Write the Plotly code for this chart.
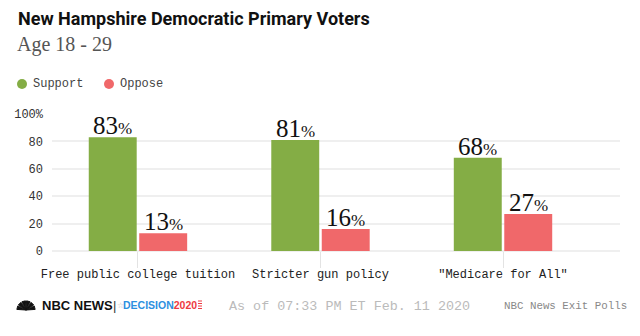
import math
import plotly.graph_objects as go

# Survey results, percent of voters aged 18-29
categories = ["Free public college tuition", "Stricter gun policy", "\"Medicare for All\""]
support = [83, 81, 68]
oppose = [13, 16, 27]
series_names = ["Support", "Oppose"]
tick_vals = [0, 20, 40, 60, 80, 100]
tick_text = ["0", "20", "40", "60", "80", "100%"]

GREEN = "#84ad45"
RED = "#f0686a"
MONO = "Liberation Mono, DejaVu Sans Mono, monospace"
SERIF = "Liberation Serif, DejaVu Serif, serif"

W, H = 640, 336
ML, MR, MT, MB = 52, 20, 114, 85
PW, PH = W - ML - MR, H - MT - MB
BARGAP, GROUPGAP = 0.447, 0.05


def px_x(x):
    return (x - ML) / PW


def px_y(y):
    return (H - MB - y) / PH


def label(v):
    return f"{v}<span style='font-size:17px'>%</span>"


fig = go.Figure()
series = [(series_names[0], support, GREEN), (series_names[1], oppose, RED)]
for name, vals, col in series:
    fig.add_trace(go.Bar(
        x=categories, y=vals, name=name,
        marker=dict(color=col, line=dict(width=0)),
        showlegend=False,
    ))

annotations = []
# value labels sitting on top of each bar
slot = (1 - BARGAP) / len(series)
for si, (name, vals, col) in enumerate(series):
    offset = (si - (len(series) - 1) / 2) * slot
    for ci, v in enumerate(vals):
        annotations.append(dict(
            x=ci + offset, y=v, xref="x", yref="y", text=label(v),
            xanchor="center", yanchor="bottom", yshift=-4, showarrow=False,
            font=dict(family=SERIF, size=25, color="#111")))

texts = [
    dict(x=px_x(16), y=px_y(18), text="<b>New Hampshire Democratic Primary Voters</b>",
         font=dict(family="Roboto, Liberation Sans, sans-serif", size=18, color="#111")),
    dict(x=px_x(15), y=px_y(44), text="Age 18 - 29",
         font=dict(family=SERIF, size=20, color="#555")),
    dict(x=px_x(31), y=px_y(84), text=series_names[0], font=dict(family=MONO, size=12, color="#444")),
    dict(x=px_x(118), y=px_y(84), text=series_names[1], font=dict(family=MONO, size=12, color="#444")),
    dict(x=px_x(40), y=px_y(305), text="<b>NBC NEWS</b>",
         font=dict(family="Liberation Sans, sans-serif", size=13, color="#111")),
    dict(x=px_x(111), y=px_y(305), text="|", font=dict(family="Liberation Sans", size=13, color="#333")),
    dict(x=px_x(115), y=px_y(305), text="☆", font=dict(family="DejaVu Sans", size=8, color="#bbb")),
    dict(x=px_x(121), y=px_y(305),
         text="<b><span style='color:#2c8fe0'>DECISION</span><span style='color:#ee3a43'>2020</span></b>",
         font=dict(family="Liberation Sans, sans-serif", size=10.5)),
    dict(x=px_x(227), y=px_y(306), text="As of 07:33 PM ET Feb. 11 2020",
         font=dict(family=MONO, size=13.4, color="#bbb")),
    dict(x=px_x(502), y=px_y(306), text="NBC News Exit Polls",
         font=dict(family=MONO, size=10.8, color="#888")),
]
for a in texts:
    a.update(xref="paper", yref="paper", xanchor="left", yanchor="middle", showarrow=False)
annotations += texts

shapes = [
    dict(type="circle", xref="paper", yref="paper", fillcolor=GREEN, line=dict(width=0),
         x0=px_x(17), x1=px_x(27), y0=px_y(89), y1=px_y(79)),
    dict(type="circle", xref="paper", yref="paper", fillcolor=RED, line=dict(width=0),
         x0=px_x(104), x1=px_x(114), y0=px_y(89), y1=px_y(79)),
]
# peacock mark: a fan of narrow feathers
for i in range(6):
    ang = math.radians(165 - i * 30)
    bx, by = 26, 310
    tx, ty = bx + 9 * math.cos(ang), by - 9 * math.sin(ang)
    nx, ny = -math.sin(ang) * 1.8, -math.cos(ang) * 1.8
    path = (f"M {px_x(bx)} {px_y(by)} L {px_x(tx + nx)} {px_y(ty + ny)} "
            f"L {px_x(tx - nx)} {px_y(ty - ny)} Z")
    shapes.append(dict(type="path", xref="paper", yref="paper", path=path,
                       fillcolor="#111", line=dict(color="#111", width=1)))
# flag stripes next to the 2020 wordmark
for i in range(4):
    y = 301 + i * 2.5
    shapes.append(dict(type="line", xref="paper", yref="paper",
                       x0=px_x(198), x1=px_x(202), y0=px_y(y), y1=px_y(y),
                       line=dict(color="#ee3a43", width=1)))

fig.update_layout(
    width=W, height=H,
    margin=dict(l=ML, r=MR, t=MT, b=MB),
    paper_bgcolor="white", plot_bgcolor="white",
    barmode="group", bargap=BARGAP, bargroupgap=GROUPGAP,
    annotations=annotations, shapes=shapes,
    xaxis=dict(range=[-0.471, 2.641], showgrid=False, zeroline=False, showline=False,
               ticks="outside", ticklen=16, tickcolor="#e3e3e3", tickwidth=1,
               tickfont=dict(family=MONO, size=12, color="#222"), ticklabelstandoff=-4),
    yaxis=dict(range=[0, 100], tickvals=tick_vals, ticktext=tick_text,
               showgrid=True, gridcolor="#efefef", gridwidth=2,
               zeroline=True, zerolinecolor="#efefef", zerolinewidth=2,
               tickfont=dict(family=MONO, size=12, color="#333"), ticklabelstandoff=8),
)

fig.write_html("out.html")
